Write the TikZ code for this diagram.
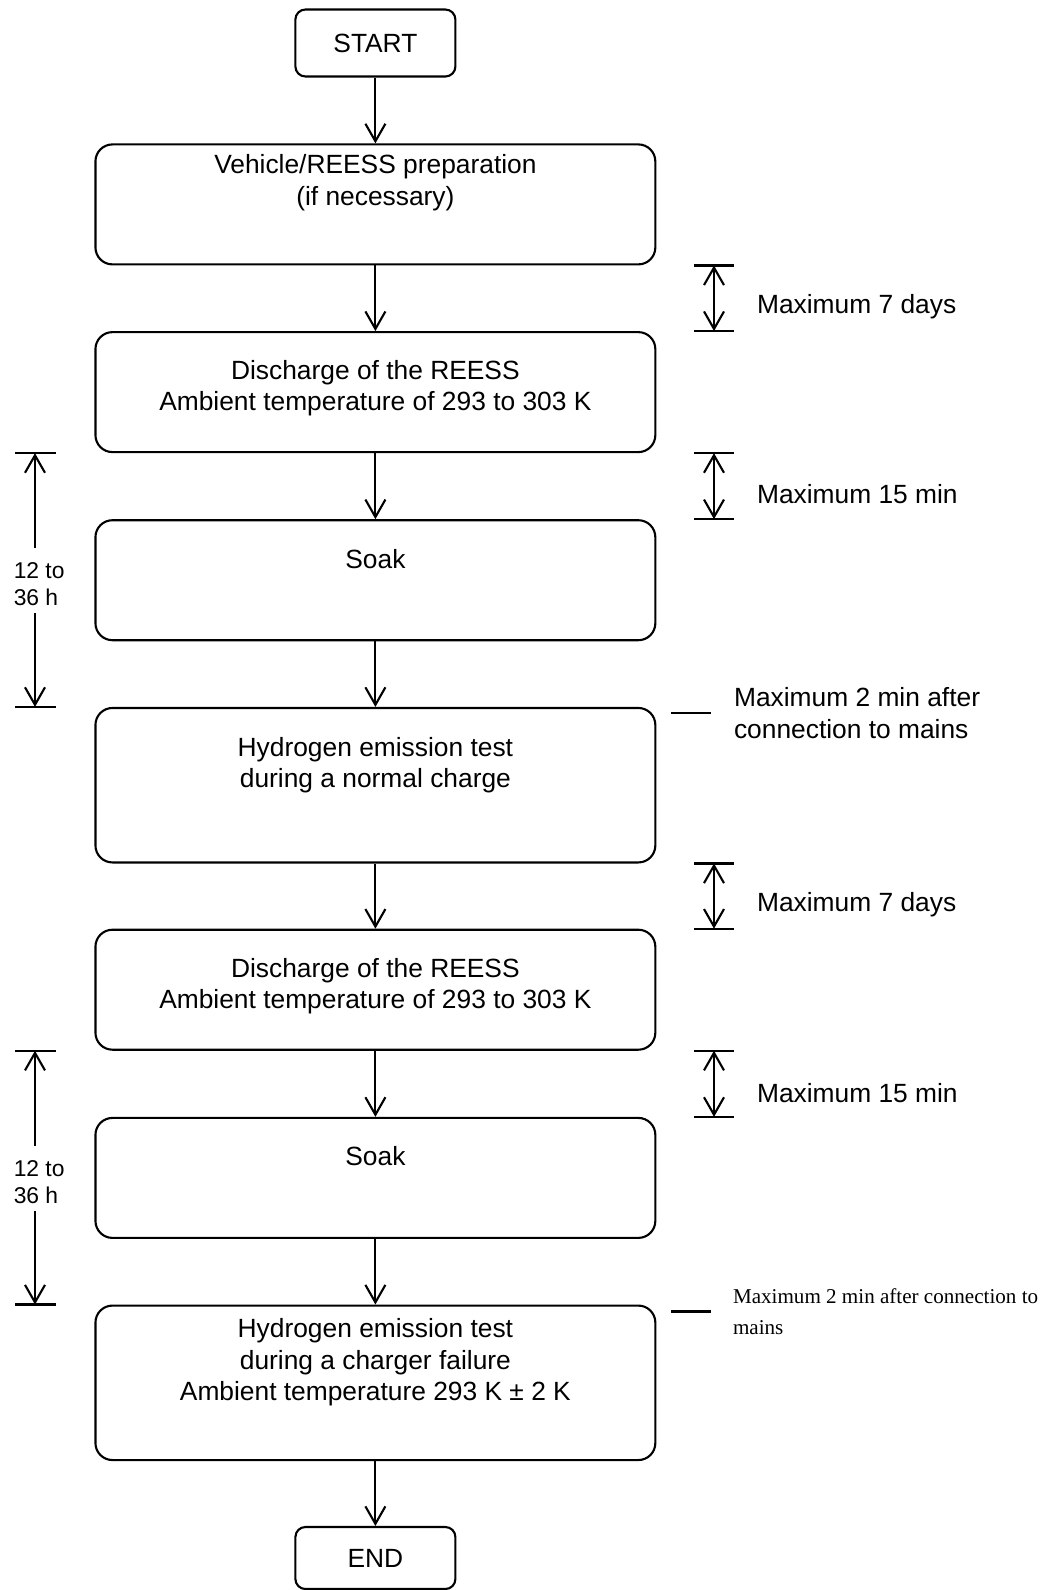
\documentclass[tikz,border=0pt]{standalone}
\usepackage{fontspec}
\setmainfont{Liberation Sans}
\newfontfamily\timesfont{Liberation Serif}
\usetikzlibrary{arrows.meta}
\usetikzlibrary{positioning}

\begin{document}
\begin{tikzpicture}[x=0.02cm,y=-0.02cm,line width=1.2pt,
    font=\fontsize{15}{18}\selectfont,
    arrow/.style={-{Straight Barb[length=3.5mm,width=4mm]}},
    twoway/.style={{Straight Barb[length=3.5mm,width=4mm]}-{Straight Barb[length=3.5mm,width=4mm]}},
    stepbox/.style={draw,rounded corners=3.4mm,minimum width=112mm,minimum height=24mm,inner sep=0},
    endbox/.style={draw,rounded corners=2mm,minimum width=32mm,minimum height=13.4mm,inner sep=0},
    steptext/.style={align=center},
    timetext/.style={anchor=west,inner sep=0,align=left}]

\useasboundingbox (0,0) rectangle (1048,1590);

% the steps
\node [endbox] (start) at (375.4,43) {START};

\node [stepbox] (prep) at (375.4,204.4) {};
\node [steptext] at ([yshift=4.4mm]prep.center) {Vehicle/REESS preparation\\(if necessary)};

\node [stepbox] (disc1) at (375.4,392.1) {};
\node [steptext] at ([yshift=0.8mm]disc1.center) {Discharge of the REESS\\Ambient temperature of 293 to 303 K};

\node [stepbox] (soak1) at (375.4,580.2) {};
\node [steptext] at ([yshift=4.2mm]soak1.center) {Soak};

\node [stepbox,minimum height=30.9mm] (hyd1) at (375.4,785.2) {};
\node [steptext] at ([yshift=4mm]hyd1.center) {Hydrogen emission test\\during a normal charge};

\node [stepbox] (disc2) at (375.4,989.7) {};
\node [steptext] at ([yshift=0.7mm]disc2.center) {Discharge of the REESS\\Ambient temperature of 293 to 303 K};

\node [stepbox] (soak2) at (375.4,1177.9) {};
\node [steptext] at ([yshift=4.3mm]soak2.center) {Soak};

\node [stepbox,minimum height=30.9mm] (hyd2) at (375.4,1382.8) {};
\node [steptext] at ([yshift=4.1mm]hyd2.center) {Hydrogen emission test\\during a charger failure\\Ambient temperature 293 K ± 2 K};

\node [endbox,minimum height=12.4mm] (end) at (375.4,1558) {END};

\draw [arrow] (start) -- (prep);
\draw [arrow] (prep) -- (disc1);
\draw [arrow] (disc1) -- (soak1);
\draw [arrow] (soak1) -- (hyd1);
\draw [arrow] (hyd1) -- (disc2);
\draw [arrow] (disc2) -- (soak2);
\draw [arrow] (soak2) -- (hyd2);
\draw [arrow] (hyd2) -- (end);

% waiting times on the right
\coordinate (rl) at (694,0);
\coordinate (rr) at (734,0);
\coordinate (ra) at (714,0);

\draw (prep.south -| rl) -- (prep.south -| rr);
\draw (disc1.north -| rl) -- (disc1.north -| rr);
\draw [twoway] (prep.south -| ra) -- (disc1.north -| ra);
\node [timetext] (wait1) at (756,307) {Maximum 7 days};

\draw (disc1.south -| rl) -- (disc1.south -| rr);
\draw (soak1.north -| rl) -- (soak1.north -| rr);
\draw [twoway] (disc1.south -| ra) -- (soak1.north -| ra);
\node [timetext] (wait2) at (756,494.5) {Maximum 15 min};

\draw (hyd1.south -| rl) -- (hyd1.south -| rr);
\draw (disc2.north -| rl) -- (disc2.north -| rr);
\draw [twoway] (hyd1.south -| ra) -- (disc2.north -| ra);
\node [timetext] (wait3) at (756,904.5) {Maximum 7 days};

\draw (disc2.south -| rl) -- (disc2.south -| rr);
\draw (soak2.north -| rl) -- (soak2.north -| rr);
\draw [twoway] (disc2.south -| ra) -- (soak2.north -| ra);
\node [timetext] (wait4) at (756,1093) {Maximum 15 min};

\coordinate (m1) at (671,713.3);
\coordinate (m2) at (671,1311.5);
\draw (m1) -- ++(40,0) coordinate (m1e);
\node [timetext,right=22 of m1e] (mains1) {Maximum 2 min after\\connection to mains};
\draw (m2) -- ++(40,0) coordinate (m2e);
\node [timetext,right=21 of m2e,font=\timesfont\fontsize{12}{18}\selectfont] (mains2) {Maximum 2 min after connection to\\mains};

% soak times on the left
\coordinate (lx) at (35,0);
\draw (15,0 |- disc1.south) -- (56,0 |- disc1.south);
\draw (15,0 |- hyd1.north) -- (56,0 |- hyd1.north);
\node [timetext,inner ysep=1.4mm,font=\fontsize{13}{15}\selectfont] (span1) at (12.7,584) {12 to\\36 h};
\draw [arrow,shorten <=1.4mm] (span1.north -| lx) -- (disc1.south -| lx);
\draw [arrow] (span1.south -| lx) -- (hyd1.north -| lx);

\draw (15,0 |- disc2.south) -- (56,0 |- disc2.south);
\draw (15,0 |- hyd2.north) -- (56,0 |- hyd2.north);
\node [timetext,inner ysep=1.4mm,font=\fontsize{13}{15}\selectfont] (span2) at (12.7,1182) {12 to\\36 h};
\draw [arrow,shorten <=1.4mm] (span2.north -| lx) -- (disc2.south -| lx);
\draw [arrow] (span2.south -| lx) -- (hyd2.north -| lx);
\end{tikzpicture}
\end{document}
